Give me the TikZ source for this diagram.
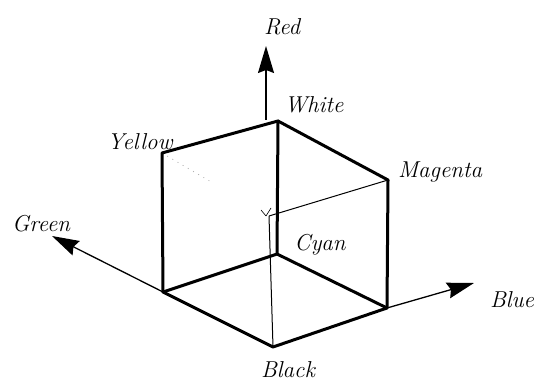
\documentclass[tikz,border=0pt]{standalone}
\usepackage{fontspec}
\setmainfont{Latin Modern Roman}
\usetikzlibrary{arrows.meta,calc}
\begin{document}
\begin{tikzpicture}[x=1pt,y=-1pt,
  edge/.style={line width=3pt,line join=round,line cap=round},
  hidden/.style={line width=1pt},
  faint/.style={line width=0.8pt,gray!60,dash pattern=on 1pt off 5pt},
  axis/.style={line width=1.3pt,-{Stealth[length=27pt,width=16pt,inset=3pt]}},
  lbl/.style={font=\fontsize{23}{26}\selectfont\itshape,inner sep=0pt}]
\useasboundingbox (0,0) rectangle (545,387);
% cube corners
\coordinate (Y) at (162,153);
\coordinate (W) at (278,121);
\coordinate (M) at (388,180);
\coordinate (B) at (387,308);
\coordinate (K) at (273,347);
\coordinate (G) at (163,292);
\coordinate (C) at (277,254);
\coordinate (H) at (269,216);
\coordinate (R0) at (266,120);
\coordinate (Rt) at (266,46);
\coordinate (Gt) at (52,236);
\coordinate (Bt) at (474,283);
\coordinate (Yd) at ($(Y)!0.45!(H)$);
% hidden edges
\draw[hidden] (H) -- (M);
\draw[hidden] (H) -- (K);
\draw[faint] (Y) -- (Yd);
\draw[line width=0.6pt] (261,210) -- (266,216) (271,208) -- (266,216);
% axes
\draw[axis] (R0) -- (Rt);
\draw[axis] (G) -- (Gt);
\draw[axis] (B) -- (Bt);
% visible edges
\draw[edge] (Y) -- (W) -- (M) -- (B) -- (K) -- (G) -- cycle;
\draw[edge] (W) -- (C);
\draw[edge] (G) -- (C) -- (B);
% labels
\node[lbl] (lr) at (282,27) {Red};
\node[lbl] (lw) at (314,105) {White};
\node[lbl] (ly) at (140,142) {Yellow};
\node[lbl] (lm) at (440,172) {Magenta};
\node[lbl] (lc) at (320,245) {Cyan};
\node[lbl] (lg) at (41,224) {Green};
\node[lbl] (lb) at (512,300) {Blue};
\node[lbl] (lk) at (288,370) {Black};
\end{tikzpicture}
\end{document}
